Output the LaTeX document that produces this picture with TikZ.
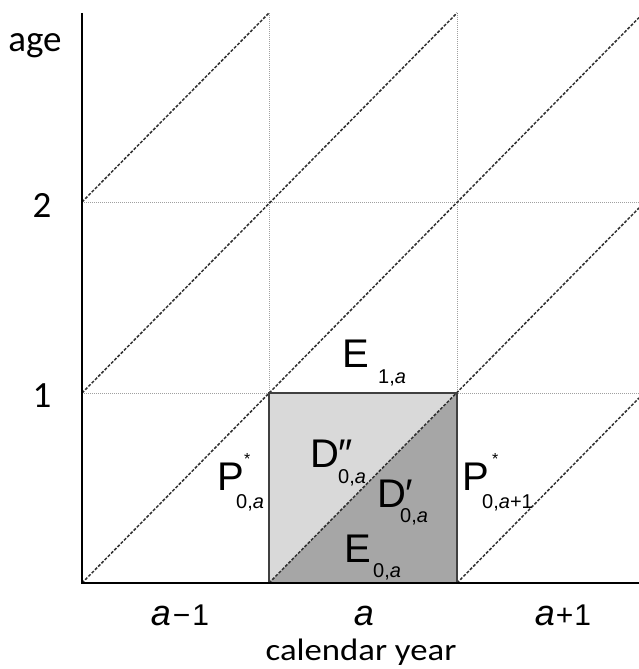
\documentclass[tikz,border=0pt]{standalone}
\usepackage{fontspec}
\setmainfont{Liberation Sans}
\newfontfamily\calib{Carlito}
\newfontfamily\calibwide[FakeStretch=1.12]{Carlito}
\definecolor{lightfill}{HTML}{D9D9D9}
\definecolor{darkfill}{HTML}{A6A6A6}
\definecolor{edgegray}{HTML}{404040}
\definecolor{dashgray}{HTML}{303030}
\definecolor{dotgray}{HTML}{A0A0A0}
\newcommand{\biga}{{\fontsize{36}{36}\selectfont\textit{a}}}
\begin{document}
\begin{tikzpicture}[x=1pt,y=-1pt,
  axis/.style={line width=2.8pt,black},
  gridline/.style={dotgray,line width=0.9pt,dash pattern=on 1pt off 1pt},
  diag/.style={dashgray,line width=1.5pt,dash pattern=on 3pt off 1.6pt},
  boxedge/.style={edgegray,line width=2pt},
  letter/.style={font=\fontsize{40}{40}\selectfont,inner sep=0pt,anchor=base west},
  subs/.style={font=\fontsize{20}{20}\selectfont,inner sep=0pt,anchor=base west},
  starlab/.style={font=\fontsize{16}{16}\selectfont,inner sep=0pt,anchor=base west},
  axlab/.style={font=\calib\fontsize{37}{37}\selectfont,inner sep=0pt,anchor=base},
  yearlab/.style={font=\fontsize{30}{30}\selectfont,inner sep=0pt,anchor=base},
  callab/.style={font=\calibwide\fontsize{31}{31}\selectfont,inner sep=0pt,anchor=base}]
\useasboundingbox (0,0) rectangle (639,669);
% grid points
\coordinate (c00) at (82,583);  \coordinate (c10) at (269,583); \coordinate (c20) at (457,583); \coordinate (c30) at (639,583);
\coordinate (c01) at (82,393);  \coordinate (c11) at (269,393); \coordinate (c21) at (457,393); \coordinate (c31) at (639,393);
\coordinate (c02) at (82,202);  \coordinate (c12) at (269,202); \coordinate (c22) at (457,202); \coordinate (c32) at (639,202);
\coordinate (c03) at (82,13);   \coordinate (c13) at (269,13);  \coordinate (c23) at (457,13);
\coordinate (e3) at (639,17.6); \coordinate (e2) at (639,208); \coordinate (e1) at (639,398);
% shaded square
\fill[lightfill] (c10) -- (c11) -- (c21) -- cycle;
\fill[darkfill] (c10) -- (c20) -- (c21) -- cycle;
% dotted grid
\draw[gridline] (c13) -- (c10);
\draw[gridline] (c23) -- (c20);
\draw[gridline] (c02) -- (c32);
\draw[gridline] (c01) -- (c31);
% life lines
\draw[diag] (c02) -- (c13);
\draw[diag] (c01) -- (c23);
\draw[diag] (c00) -- (e3);
\draw[diag] (c10) -- (e2);
\draw[diag] (c20) -- (e1);
% square border
\draw[boxedge] (c10) rectangle (c21);
% axes
\draw[axis] (c03) -- (c00);
\draw[axis] (81,583) -- (c30);
% axis labels
\node[axlab] (age) at (35,52) {age};
\node[axlab] (two) at (42,217) {2};
\node[axlab] (one) at (42,407) {1};
\node[yearlab] (am1) at (180,625) {\biga\kern2pt−\kern2pt1};
\node[yearlab] (ay) at (364,625) {\biga};
\node[yearlab] (ap1) at (563,625) {\biga\kern1pt+\kern1pt1};
\node[callab] (cal) at (361,660) {calendar year};
% region labels
\node[letter] (E1) at (342,367) {E};
\node[subs] (E1s) at (378,383) {1,\textit{a}};
\node[letter] (D2) at (310,467) {D};
\node[letter] (D2p) at (338,467) {″};
\node[subs] (D2s) at (338,483) {0,\textit{a}};
\node[letter] (D1) at (377,507) {D};
\node[letter] (D1p) at (405,507) {′};
\node[subs] (D1s) at (400,522) {0,\textit{a}};
\node[letter] (E0) at (344,562) {E};
\node[subs] (E0s) at (373,577) {0,\textit{a}};
\node[letter] (P0) at (217,490) {P};
\node[starlab] (P0st) at (244,464) {*};
\node[subs] (P0s) at (236,508) {0,\textit{a}};
\node[letter] (P1) at (462,490) {P};
\node[starlab] (P1st) at (492,464) {*};
\node[subs] (P1s) at (482,508) {0,\textit{a}+1};
\end{tikzpicture}
\end{document}
